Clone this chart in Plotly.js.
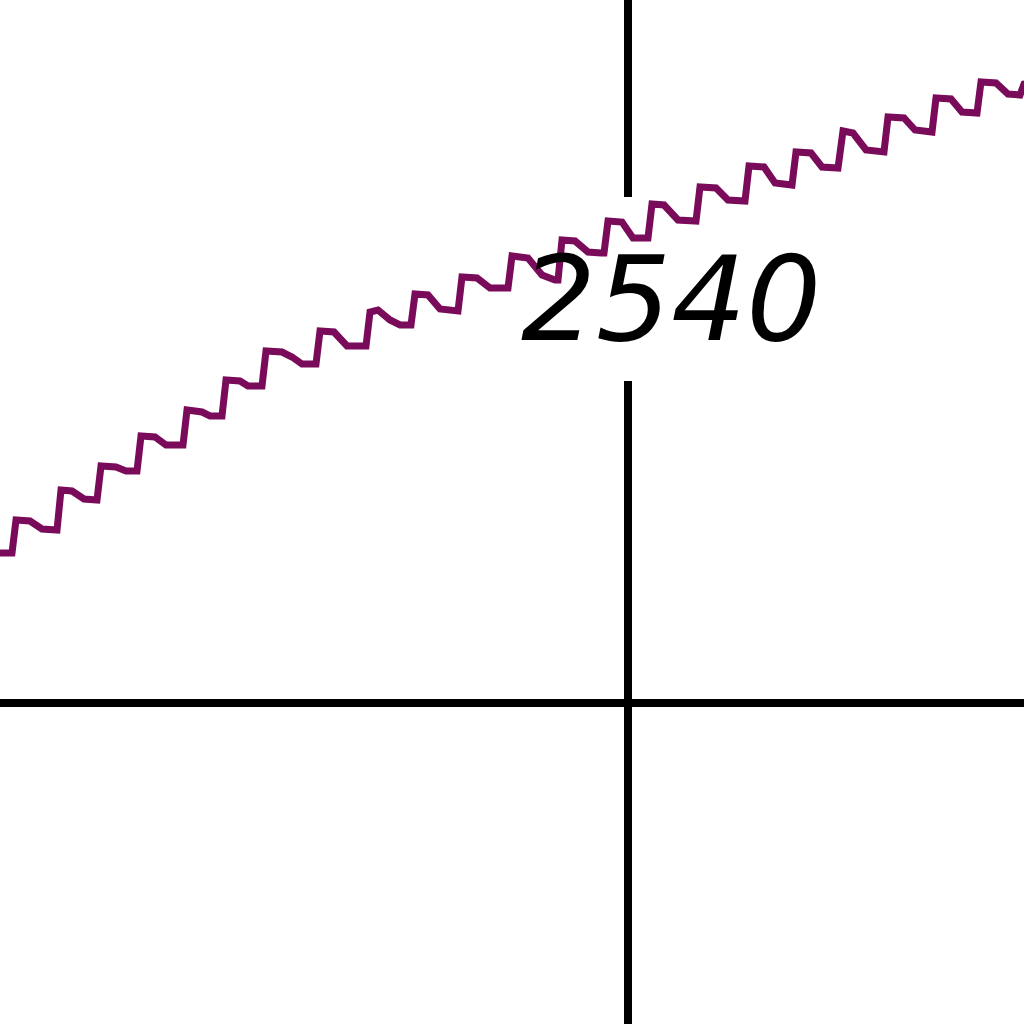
<!DOCTYPE html>
<html>
<head>
<meta charset="utf-8">
<script src="https://cdn.plot.ly/plotly-3.0.1.min.js"></script>
<style>
  html, body { margin: 0; padding: 0; background: #ffffff; }
  #chart { width: 1024px; height: 1024px; }
</style>
</head>
<body>
<div id="chart"></div>
<script>
// Wavy series (x: horizontal position, y: value)
const seriesX = [
  -628, -616, -612, -598, -586, -574,
  -571, -567, -556, -544, -534,
  -531, -527, -512, -502, -494,
  -491, -487, -473, -462, -448,
  -445, -441, -426, -418, -409,
  -406, -402, -388, -380, -369,
  -366, -362, -346, -336, -326, -315,
  -312, -308, -294, -281, -265,
  -262, -258, -250, -238, -228, -220,
  -217, -213, -200, -188, -173,
  -170, -166, -151, -138, -123,
  -120, -116, -100, -86, -76, -73,
  -70, -66, -53, -40, -27,
  -24, -20, -6, 5, 17,
  20, 24, 36, 50, 65,
  68, 72, 88, 100, 114,
  117, 121, 136, 147, 161,
  164, 168, 183, 194, 207,
  210, 215, 225, 238, 253,
  256, 260, 276, 287, 301,
  304, 308, 323, 334, 346,
  349, 353, 368, 380, 389,
  392, 396, 402
];
const seriesY = [
  150, 150, 183, 182, 174, 173,
  173, 213, 212, 204, 203,
  203, 237, 236, 232, 232,
  232, 267, 266, 258, 258,
  258, 293, 291, 287, 287,
  287, 323, 322, 317, 317,
  317, 352, 351, 346, 339, 339,
  339, 372, 371, 357, 357,
  357, 391, 393, 383, 378, 378,
  378, 409, 408, 394, 392,
  392, 426, 425, 415, 415,
  415, 447, 445, 428, 423, 423,
  423, 463, 462, 451, 450,
  450, 482, 481, 465, 465,
  465, 499, 498, 483, 482,
  482, 516, 515, 503, 502,
  502, 537, 536, 520, 518,
  518, 551, 550, 536, 535,
  535, 572, 570, 553, 551,
  551, 586, 585, 573, 571,
  571, 605, 604, 591, 590,
  590, 621, 620, 609, 608,
  608, 619, 620
];

// Tick label shown on the vertical axis
const tickLabel = "2540";
const tickLabelX = 43;
const tickLabelY = 404;

// Axis extent and the gap left in the vertical axis for the label
const xRange = [-628, 396];
const yRange = [-321, 703];
const vGapBottom = 322;
const vGapTop = 506;

const lineColor = "#7a0a5a";
const axisColor = "#000000";

const trace = {
  type: "scatter",
  mode: "lines",
  x: seriesX,
  y: seriesY,
  line: { color: lineColor, width: 7, shape: "linear" },
  hoverinfo: "skip",
  showlegend: false
};

const layout = {
  width: 1024,
  height: 1024,
  margin: { l: 0, r: 0, t: 0, b: 0, pad: 0 },
  paper_bgcolor: "#ffffff",
  plot_bgcolor: "#ffffff",
  showlegend: false,
  xaxis: {
    range: xRange, showgrid: false, zeroline: false, showticklabels: false,
    ticks: "", showline: false, fixedrange: true
  },
  yaxis: {
    range: yRange, showgrid: false, zeroline: false, showticklabels: false,
    ticks: "", showline: false, fixedrange: true
  },
  shapes: [
    { type: "line", xref: "x", yref: "y", x0: xRange[0] - 50, x1: xRange[1] + 50, y0: 0, y1: 0,
      line: { color: axisColor, width: 8 }, layer: "below" },
    { type: "line", xref: "x", yref: "y", x0: 0, x1: 0, y0: yRange[0] - 50, y1: vGapBottom,
      line: { color: axisColor, width: 8 }, layer: "below" },
    { type: "line", xref: "x", yref: "y", x0: 0, x1: 0, y0: vGapTop, y1: yRange[1] + 50,
      line: { color: axisColor, width: 8 }, layer: "below" }
  ],
  annotations: [
    {
      x: tickLabelX, y: tickLabelY, xref: "x", yref: "y",
      text: tickLabel, showarrow: false,
      xanchor: "center", yanchor: "middle",
      font: { family: "DejaVu Sans", size: 118, color: "#000000", style: "italic" }
    }
  ]
};

Plotly.newPlot("chart", [trace], layout, { staticPlot: true, displayModeBar: false });
</script>
</body>
</html>
